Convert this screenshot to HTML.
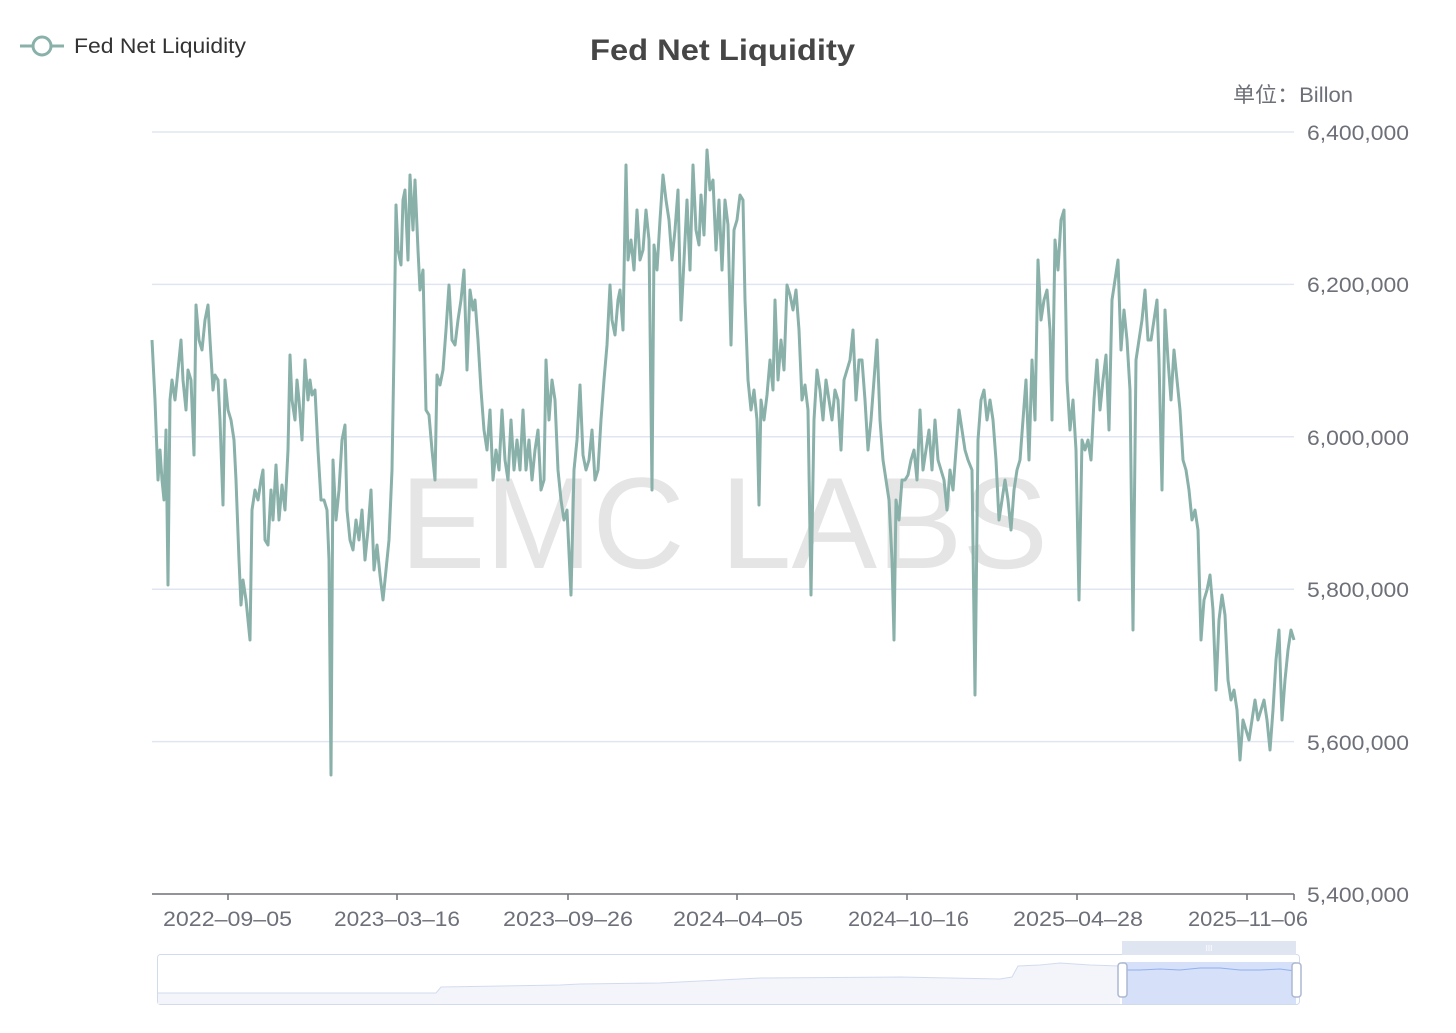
<!DOCTYPE html>
<html><head><meta charset="utf-8"><style>
body{margin:0;background:#fff;}
svg text{font-family:"Liberation Sans","Noto Sans CJK SC",sans-serif;}
</style></head><body>
<svg width="1456" height="1028" viewBox="0 0 1456 1028" xmlns="http://www.w3.org/2000/svg">
<rect width="1456" height="1028" fill="#fff"/>
<text x="400" y="568" font-size="130" fill="#000" fill-opacity="0.1" textLength="648" lengthAdjust="spacingAndGlyphs">EMC LABS</text>
<g stroke="#e0e6f1" stroke-width="1.5">
<line x1="152" y1="132" x2="1294" y2="132"/><line x1="152" y1="284.4" x2="1294" y2="284.4"/>
<line x1="152" y1="436.8" x2="1294" y2="436.8"/><line x1="152" y1="589.2" x2="1294" y2="589.2"/>
<line x1="152" y1="741.6" x2="1294" y2="741.6"/>
</g>
<line x1="152" y1="894" x2="1294" y2="894" stroke="#6e7079" stroke-width="1.5"/>
<g stroke="#6e7079" stroke-width="1.5">
<line x1="228" y1="894" x2="228" y2="900"/><line x1="397" y1="894" x2="397" y2="900"/><line x1="568" y1="894" x2="568" y2="900"/><line x1="737" y1="894" x2="737" y2="900"/><line x1="907" y1="894" x2="907" y2="900"/><line x1="1077" y1="894" x2="1077" y2="900"/><line x1="1247" y1="894" x2="1247" y2="900"/><line x1="1294" y1="894" x2="1294" y2="900"/>
</g>
<g font-size="21" fill="#6e7079">
<text x="163" y="926" textLength="129" lengthAdjust="spacingAndGlyphs">2022–09–05</text>
<text x="334" y="926" textLength="126" lengthAdjust="spacingAndGlyphs">2023–03–16</text>
<text x="503" y="926" textLength="130" lengthAdjust="spacingAndGlyphs">2023–09–26</text>
<text x="673" y="926" textLength="130" lengthAdjust="spacingAndGlyphs">2024–04–05</text>
<text x="848" y="926" textLength="121" lengthAdjust="spacingAndGlyphs">2024–10–16</text>
<text x="1013" y="926" textLength="130" lengthAdjust="spacingAndGlyphs">2025–04–28</text>
<text x="1188" y="926" textLength="120" lengthAdjust="spacingAndGlyphs">2025–11–06</text>
</g>
<g font-size="21" fill="#6e7079">
<text x="1307" y="140" textLength="102" lengthAdjust="spacingAndGlyphs">6,400,000</text>
<text x="1307" y="292" textLength="102" lengthAdjust="spacingAndGlyphs">6,200,000</text>
<text x="1307" y="445" textLength="102" lengthAdjust="spacingAndGlyphs">6,000,000</text>
<text x="1307" y="597" textLength="102" lengthAdjust="spacingAndGlyphs">5,800,000</text>
<text x="1307" y="750" textLength="102" lengthAdjust="spacingAndGlyphs">5,600,000</text>
<text x="1307" y="902" textLength="102" lengthAdjust="spacingAndGlyphs">5,400,000</text>
<text x="1233" y="102" textLength="120" lengthAdjust="spacingAndGlyphs">单位：Billon</text>
</g>
<text x="590" y="60" font-size="30" font-weight="bold" fill="#464646" textLength="265" lengthAdjust="spacingAndGlyphs">Fed Net Liquidity</text>
<line x1="20" y1="46" x2="64" y2="46" stroke="#89b1a9" stroke-width="3"/>
<circle cx="42" cy="46" r="9" fill="#fff" stroke="#89b1a9" stroke-width="3"/>
<text x="74" y="53" font-size="21" fill="#333" textLength="172" lengthAdjust="spacingAndGlyphs">Fed Net Liquidity</text>
<polyline fill="none" stroke="#89b1a9" stroke-width="3" stroke-linejoin="round" points="152,340 155,400 158,480 160,450 162,480 164,500 166,430 168,585 170,400 172,380 175,400 178,370 181,340 183,380 186,410 188,370 191,380 194,455 196,305 199,340 202,350 205,320 208,305 210,340 213,390 215,375 218,380 220,420 223,505 225,380 228,410 231,420 234,440 236,480 239,560 241,605 243,580 246,600 250,640 252,510 255,490 258,500 261,480 263,470 265,540 268,545 271,490 273,520 276,465 279,520 282,485 285,510 288,450 290,355 292,400 295,420 297,380 299,400 302,440 305,360 308,400 310,380 312,395 315,390 318,450 321,500 324,500 327,510 329,560 331,775 333,460 336,520 339,490 342,440 345,425 347,510 350,540 353,550 356,520 359,540 362,510 365,560 368,530 371,490 374,570 377,545 380,575 383,600 386,570 389,540 392,470 394,350 396,205 398,250 401,265 403,200 405,190 408,260 410,175 413,230 415,180 418,250 420,290 423,270 426,410 429,415 432,450 435,480 437,375 440,385 443,370 446,330 449,285 452,340 455,345 458,320 461,300 464,270 467,370 470,290 473,310 475,300 478,340 481,390 484,430 487,450 490,410 493,480 496,450 499,470 502,410 505,460 508,480 511,420 514,470 517,440 520,470 523,410 526,470 529,440 532,480 535,450 538,430 541,490 544,480 546,360 549,420 552,380 555,400 558,470 561,500 564,520 567,510 571,595 574,470 577,440 580,385 583,455 586,470 589,460 592,430 595,480 598,470 601,420 604,380 607,345 610,285 612,320 615,335 618,300 620,290 623,330 626,165 628,260 631,240 634,270 637,210 640,260 643,250 646,210 649,240 652,490 654,245 657,270 660,220 663,175 666,200 669,220 672,260 675,230 678,190 681,320 684,260 687,200 690,270 693,165 696,230 699,245 701,195 704,235 707,150 710,190 713,180 716,250 719,200 722,270 725,200 728,225 731,345 734,230 737,220 740,195 743,200 745,300 748,380 751,410 754,390 757,420 759,505 761,400 764,420 767,395 770,360 773,390 775,300 778,380 781,340 784,370 787,285 790,295 793,310 796,290 799,330 802,400 805,385 808,410 811,595 814,420 817,370 820,390 823,420 826,380 829,400 832,420 835,390 838,400 841,450 844,380 847,370 850,360 853,330 856,400 859,360 862,360 865,400 868,450 871,420 874,380 877,340 880,420 883,460 886,480 889,500 892,560 894,640 896,500 899,520 902,480 905,480 908,475 911,460 914,450 917,480 920,410 923,470 926,450 929,430 932,470 935,420 938,460 941,470 944,480 947,510 950,470 953,490 956,450 959,410 962,430 965,450 968,460 972,470 975,695 978,440 981,400 984,390 987,420 990,400 993,420 996,460 999,520 1002,500 1005,480 1008,500 1011,530 1014,490 1017,470 1020,460 1023,420 1026,380 1029,460 1032,360 1035,420 1038,260 1041,320 1044,300 1047,290 1050,330 1052,420 1055,240 1058,270 1061,220 1064,210 1067,380 1070,430 1073,400 1076,450 1079,600 1082,440 1085,450 1088,440 1091,460 1094,400 1097,360 1100,410 1103,380 1106,355 1109,430 1112,300 1115,280 1118,260 1121,350 1124,310 1127,340 1130,390 1133,630 1136,360 1139,340 1142,320 1145,290 1148,340 1151,340 1154,320 1157,300 1159,360 1162,490 1165,310 1168,360 1171,400 1174,350 1177,380 1180,410 1183,460 1186,470 1189,490 1192,520 1195,510 1198,530 1201,640 1204,600 1207,590 1210,575 1213,610 1216,690 1219,620 1222,595 1225,615 1228,680 1231,700 1234,690 1237,710 1240,760 1243,720 1246,730 1249,740 1252,720 1255,700 1258,720 1261,710 1264,700 1267,720 1270,750 1273,710 1276,660 1279,630 1282,720 1285,680 1288,650 1291,630 1294,640"/>
<!-- dataZoom -->
<rect x="157.5" y="954.5" width="1142" height="50" rx="3" fill="#fff" stroke="#d2dbee"/>
<path d="M158,993 L436,993 L441,987 L560,985 L580,984 L660,983 L720,980 L760,978 L900,977 L1000,979 L1012,977 L1018,966 L1040,965 L1060,963 L1090,965 L1120,966 L1120,1004 L158,1004 Z" fill="#f3f5fb"/>
<polyline fill="none" stroke="#d2dbee" points="158,993 436,993 441,987 560,985 580,984 660,983 720,980 760,978 900,977 1000,979 1012,977 1018,966 1040,965 1060,963 1090,965 1120,966"/>
<rect x="1122" y="962" width="174" height="42" fill="#d6e0f8"/>
<rect x="1122" y="941" width="174" height="14" fill="#e0e5f2"/>
<text x="1209" y="951" font-size="8" fill="#fff" text-anchor="middle">III</text>
<polyline fill="none" stroke="#8fb0f0" stroke-width="1" points="1124,970 1140,970 1160,969 1180,970 1200,968 1220,968 1240,970 1260,970 1280,969 1295,971"/>
<rect x="1118" y="963" width="9" height="34" rx="3" fill="#fff" stroke="#acb8d1" stroke-width="1.5"/>
<rect x="1292" y="963" width="9" height="34" rx="3" fill="#fff" stroke="#acb8d1" stroke-width="1.5"/>
</svg>
</body></html>
